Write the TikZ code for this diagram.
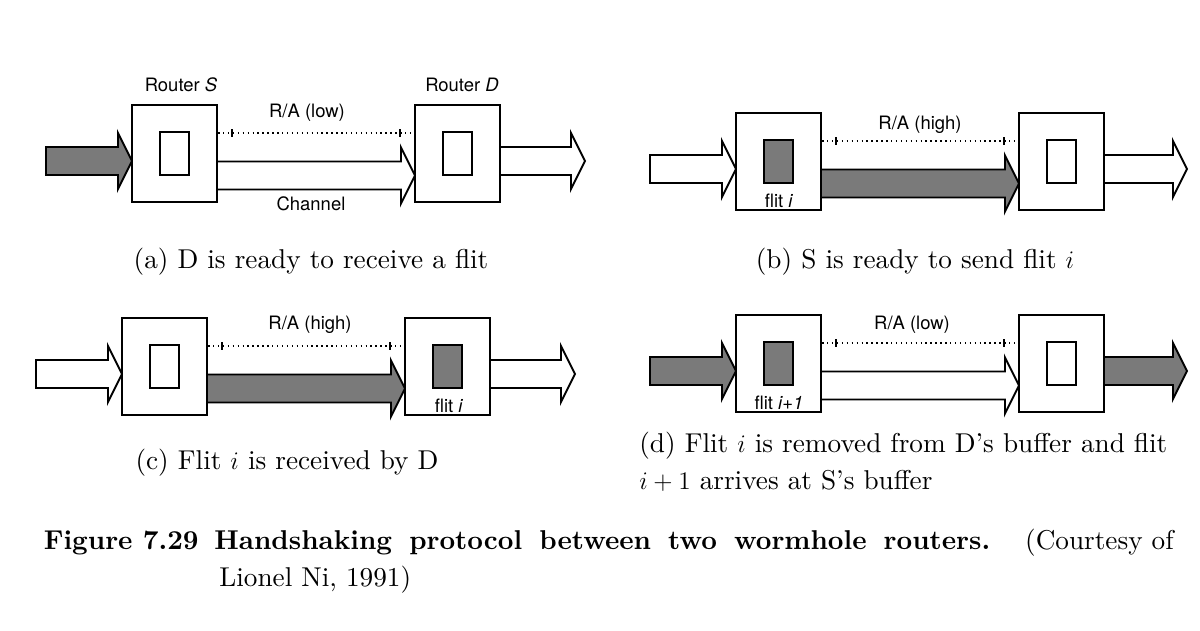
\documentclass[tikz,border=0pt]{standalone}
\usepackage{fontspec}
\setmainfont{lmroman10-regular.otf}[ItalicFont=lmroman10-italic.otf, BoldFont=lmroman10-bold.otf]
\newfontfamily\helv{TeX Gyre Heros}
\usetikzlibrary{calc}
\def\fatarrow[#1](#2:#3:#4){\draw[#1] (#2,#4-14) -- (#3-14,#4-14) -- (#3-14,#4-28) -- (#3,#4) -- (#3-14,#4+28) -- (#3-14,#4+14) -- (#2,#4+14) -- cycle;}
\tikzset{
  router/.style={draw, line width=1.3pt, fill=white, minimum width=1.7cm, minimum height=1.94cm, inner sep=0pt},
  buffer/.style={draw, line width=1.1pt, minimum width=0.58cm, minimum height=0.86cm, inner sep=0pt},
  full/.style={fill=black!52},
  link/.style={line width=1.1pt},
  ack/.style={dotted, line width=0.8pt},
  lbl/.style={font=\helv\fontsize{10.5}{12}\selectfont, inner sep=0pt},
  subcap/.style={font=\fontsize{15.5}{21}\selectfont, inner sep=0pt}
}
\begin{document}
\begin{tikzpicture}[x=0.02cm, y=-0.02cm]
  \useasboundingbox (0,0) rectangle (1200,630);
  %%%%% (a) %%%%%
  \begin{scope}[shift={(132,105)}]
    \fatarrow[link, full](-86:0:56)
    \fatarrow[link, fill=white](85:283:70.5)
    \fatarrow[link, fill=white](368:453:56)
    \node[router] (sa) at (42.5,48.5) {};
    \node[buffer] (ba) at (sa) {};
    \node[router] (da) at (325.5,48.5) {};
    \node[buffer] (ea) at (da) {};
    \draw[ack] (sa.east |- 0,28) -- (da.west |- 0,28);
    \draw[line width=1.2pt] (100,24) -- (100,32) (268,24) -- (268,32);
    \node[lbl] (rs) at (49,-20) {Router \textit{S}};
    \node[lbl] (rd) at (330,-20) {Router \textit{D}};
    \node[lbl] (ra) at (175,8) {R/A (low)};
    \node[lbl] (ch) at (179,99) {Channel};
  \end{scope}
  \node[subcap] (ca) at (311,262) {(a) D is ready to receive a flit};
  %%%%% (b) %%%%%
  \begin{scope}[shift={(736,113)}]
    \fatarrow[link, fill=white](-86:0:56)
    \fatarrow[link, full](85:283:70.5)
    \fatarrow[link, fill=white](368:451:56)
    \node[router] (sb) at (42.5,48.5) {};
    \node[buffer, full] (bb) at (sb) {};
    \node[router] (db) at (325.5,48.5) {};
    \node[buffer] (eb) at (db) {};
    \draw[ack] (sb.east |- 0,28) -- (db.west |- 0,28);
    \draw[line width=1.2pt] (100,24) -- (100,32) (268,24) -- (268,32);
    \node[lbl] (rb) at (184,12) {R/A (high)};
    \node[lbl] (fb) at (43,88) {flit \textit{i}};
  \end{scope}
  \node[subcap] (cb) at (915,262) {(b) S is ready to send flit $i$};
  %%%%% (c) %%%%%
  \begin{scope}[shift={(122,318)}]
    \fatarrow[link, fill=white](-86:0:56)
    \fatarrow[link, full](85:283:70.5)
    \fatarrow[link, fill=white](368:453:56)
    \node[router] (sc) at (42.5,48.5) {};
    \node[buffer] (bc) at (sc) {};
    \node[router] (dc) at (325.5,48.5) {};
    \node[buffer, full] (ec) at (dc) {};
    \draw[ack] (sc.east |- 0,28) -- (dc.west |- 0,28);
    \draw[line width=1.2pt] (100,24) -- (100,32) (268,24) -- (268,32);
    \node[lbl] (rc) at (188,7) {R/A (high)};
    \node[lbl] (fc) at (327,88) {flit \textit{i}};
  \end{scope}
  \node[subcap] (cc) at (287,463) {(c) Flit $i$ is received by D};
  %%%%% (d) %%%%%
  \begin{scope}[shift={(736,315)}]
    \fatarrow[link, full](-86:0:56)
    \fatarrow[link, fill=white](85:283:70.5)
    \fatarrow[link, full](368:451:56)
    \node[router] (sd) at (42.5,48.5) {};
    \node[buffer, full] (bd) at (sd) {};
    \node[router] (dd) at (325.5,48.5) {};
    \node[buffer] (ed) at (dd) {};
    \draw[ack] (sd.east |- 0,28) -- (dd.west |- 0,28);
    \draw[line width=1.2pt] (100,24) -- (100,32) (268,24) -- (268,32);
    \node[lbl] (rdl) at (176,10) {R/A (low)};
    \node[lbl] (fd) at (43,88) {flit \textit{i+1}};
  \end{scope}
  \node[subcap, anchor=west, align=left] (cd) at (639,461.5) {(d) Flit $i$ is removed from D's buffer and flit\\$i+1$ arrives at S's buffer};
  %%%%% caption %%%%%
  \node[subcap, anchor=base east] (fig) at (199,549) {\bfseries Figure 7.29};
  \node[subcap, anchor=base west] (tt) at (214,549) {\bfseries\makebox[15.52cm][s]{Handshaking protocol between two wormhole routers.}};
  \node[subcap, anchor=base east] (ct) at (1174,549) {(Courtesy of};
  \node[subcap, anchor=base west] (ln) at (219,586) {Lionel Ni, 1991)};
\end{tikzpicture}
\end{document}
